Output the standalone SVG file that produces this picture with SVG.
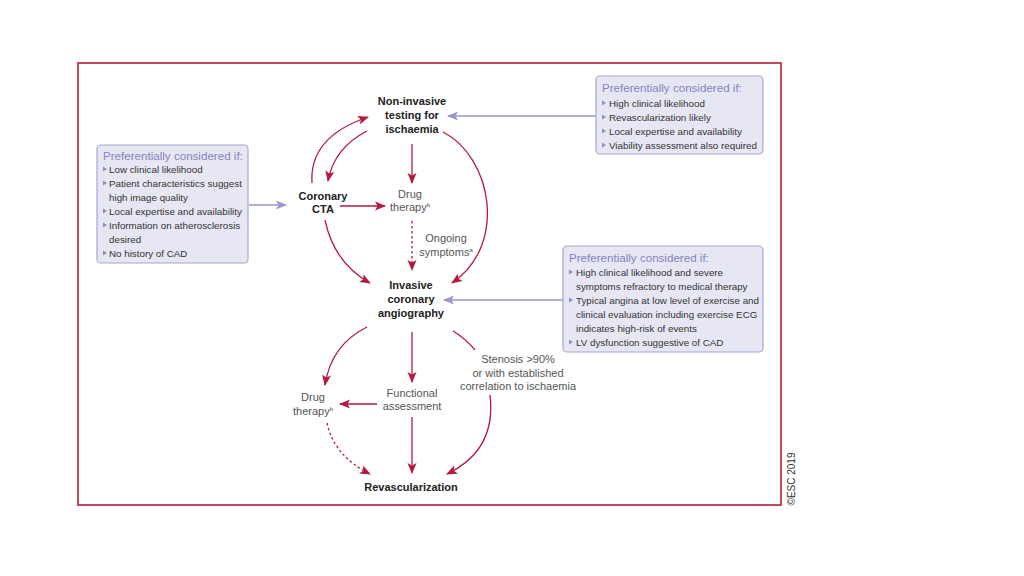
<svg xmlns="http://www.w3.org/2000/svg" width="1024" height="576" viewBox="0 0 1024 576">
<style>
.node{font-family:"Liberation Sans",Arial,sans-serif;font-size:11px;font-weight:bold;fill:#222;text-anchor:middle}
.lbl{font-family:"Liberation Sans",Arial,sans-serif;font-size:11px;fill:#555;text-anchor:middle}
.box{fill:#e7e7f3;stroke:#a8a6d2;stroke-width:1.2}
.ttl{font-family:"Liberation Sans",Arial,sans-serif;font-size:11.6px;fill:#8582c0}
.itm{font-family:"Liberation Sans",Arial,sans-serif;font-size:9.8px;fill:#333}
.red{fill:none;stroke:#b4193f;stroke-width:1.3}
.dash{stroke-dasharray:2.5 2.5}
.pur{fill:none;stroke:#9a97cc;stroke-width:1.3}
.sup{font-size:6px}
</style>
<defs>
<marker id="ar" markerUnits="userSpaceOnUse" markerWidth="12" markerHeight="10" refX="10" refY="5" orient="auto">
<path d="M0,0.5 L11,5 L0,9.5 L2.5,5 z" fill="#b4193f"/>
</marker>
<marker id="ap" markerUnits="userSpaceOnUse" markerWidth="12" markerHeight="10" refX="10" refY="5" orient="auto">
<path d="M0,0.5 L11,5 L0,9.5 L2.5,5 z" fill="#9a97cc"/>
</marker>
<path id="bul" d="M0,-2.5 L4,0 L0,2.5 z" fill="#8f8dbf"/>
</defs>
<rect width="1024" height="576" fill="#fff"/>
<rect x="78" y="63" width="703" height="442" fill="none" stroke="#c0354f" stroke-width="1.8"/>

<g id="connectors">
<path class="red" d="M312,183 Q309,137 368,117" marker-end="url(#ar)"/>
<path class="red" d="M367,131 Q334,148 328,181" marker-end="url(#ar)"/>
<path class="red" d="M412,144 L412,183" marker-end="url(#ar)"/>
<path class="red" d="M340,206 L385,206" marker-end="url(#ar)"/>
<path class="red dash" d="M412,221 L412,270" marker-end="url(#ar)"/>
<path class="red" d="M443,132 C492,157 508,245 452,283" marker-end="url(#ar)"/>
<path class="red" d="M325,220 Q334,263 370,283" marker-end="url(#ar)"/>
<path class="red" d="M367,327 Q331,345 325,385" marker-end="url(#ar)"/>
<path class="red" d="M412,332 L412,382" marker-end="url(#ar)"/>
<path class="red" d="M453,331 Q466,339 475,350"/>
<path class="red" d="M490,395 C495,436 476,460 447,474" marker-end="url(#ar)"/>
<path class="red" d="M377,404 L340,404" marker-end="url(#ar)"/>
<path class="red" d="M412,417 L412,473" marker-end="url(#ar)"/>
<path class="red dash" d="M327,423 Q334,456 370,474" marker-end="url(#ar)"/>
<path class="pur" d="M249,205 L286,205" marker-end="url(#ap)"/>
<path class="pur" d="M596,116 L448,116" marker-end="url(#ap)"/>
<path class="pur" d="M563,300 L444,300" marker-end="url(#ap)"/>
</g>

<g id="n-noninvasive">
<text class="node" x="412" y="105">Non-invasive</text>
<text class="node" x="412" y="119">testing for</text>
<text class="node" x="412" y="133">ischaemia</text>
</g>
<g id="n-ccta">
<text class="node" x="323" y="200">Coronary</text>
<text class="node" x="323" y="213">CTA</text>
</g>
<g id="n-drug1">
<text class="lbl" x="410" y="198">Drug</text>
<text class="lbl" x="410" y="211">therapy<tspan class="sup" dy="-4">b</tspan></text>
</g>
<g id="n-ongoing">
<text class="lbl" x="446" y="242">Ongoing</text>
<text class="lbl" x="446" y="256">symptoms<tspan class="sup" dy="-4">a</tspan></text>
</g>
<g id="n-invasive">
<text class="node" x="411" y="289">Invasive</text>
<text class="node" x="411" y="303">coronary</text>
<text class="node" x="411" y="317">angiography</text>
</g>
<g id="n-drug2">
<text class="lbl" x="313" y="401">Drug</text>
<text class="lbl" x="313" y="415">therapy<tspan class="sup" dy="-4">b</tspan></text>
</g>
<g id="n-functional">
<text class="lbl" x="412" y="397">Functional</text>
<text class="lbl" x="412" y="410">assessment</text>
</g>
<g id="n-stenosis">
<text class="lbl" x="518" y="363">Stenosis &gt;90%</text>
<text class="lbl" x="518" y="377">or with established</text>
<text class="lbl" x="518" y="390">correlation to ischaemia</text>
</g>
<g id="n-revasc">
<text class="node" x="411" y="491">Revascularization</text>
</g>

<g id="box-left">
<rect class="box" x="97" y="145" width="151" height="118" rx="4"/>
<text class="ttl" x="103" y="160">Preferentially considered if:</text>
<use href="#bul" x="103" y="169"/><text class="itm" x="109" y="173">Low clinical likelihood</text>
<use href="#bul" x="103" y="183"/><text class="itm" x="109" y="187">Patient characteristics suggest</text>
<text class="itm" x="109" y="201">high image quality</text>
<use href="#bul" x="103" y="211"/><text class="itm" x="109" y="215">Local expertise and availability</text>
<use href="#bul" x="103" y="225"/><text class="itm" x="109" y="229">Information on atherosclerosis</text>
<text class="itm" x="109" y="243">desired</text>
<use href="#bul" x="103" y="253"/><text class="itm" x="109" y="257">No history of CAD</text>
</g>

<g id="box-topright">
<rect class="box" x="596" y="76" width="167" height="78" rx="4"/>
<text class="ttl" x="602" y="92">Preferentially considered if:</text>
<use href="#bul" x="602" y="103"/><text class="itm" x="609" y="107">High clinical likelihood</text>
<use href="#bul" x="602" y="117"/><text class="itm" x="609" y="121">Revascularization likely</text>
<use href="#bul" x="602" y="131"/><text class="itm" x="609" y="135">Local expertise and  availability</text>
<use href="#bul" x="602" y="145"/><text class="itm" x="609" y="149">Viability assessment also required</text>
</g>

<g id="box-midright">
<rect class="box" x="563" y="246" width="200" height="106" rx="4"/>
<text class="ttl" x="569" y="262">Preferentially considered if:</text>
<use href="#bul" x="569" y="272"/><text class="itm" x="576" y="276">High clinical likelihood and severe</text>
<text class="itm" x="576" y="290">symptoms refractory to medical therapy</text>
<use href="#bul" x="569" y="300"/><text class="itm" x="576" y="304">Typical angina at low level of exercise and</text>
<text class="itm" x="576" y="318">clinical evaluation including exercise ECG</text>
<text class="itm" x="576" y="332">indicates high-risk of events</text>
<use href="#bul" x="569" y="342"/><text class="itm" x="576" y="346">LV dysfunction suggestive of CAD</text>
</g>

<text x="0" y="0" transform="translate(795,479) rotate(-90)" font-family="'Liberation Sans',Arial,sans-serif" font-size="10" fill="#333" text-anchor="middle">©ESC 2019</text>
</svg>
